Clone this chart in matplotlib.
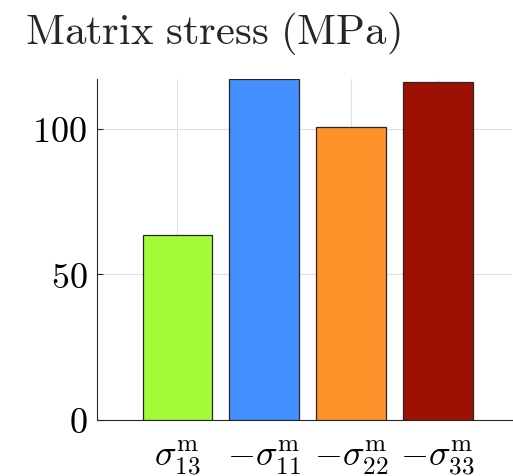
import matplotlib
matplotlib.use("Agg")
import matplotlib.pyplot as plt

plt.rcParams['mathtext.fontset'] = 'cm'
plt.rcParams['font.family'] = 'serif'
plt.rcParams['font.serif'] = ['cmr10', 'DejaVu Serif']
plt.rcParams['axes.formatter.use_mathtext'] = True

# data
labels = [r'$\sigma_{13}^{\mathrm{m}}$', r'$-\sigma_{11}^{\mathrm{m}}$',
          r'$-\sigma_{22}^{\mathrm{m}}$', r'$-\sigma_{33}^{\mathrm{m}}$']
values = [63.6, 117.2, 100.8, 116.3]
colors = ['#A4FB3A', '#448FFE', '#FE932C', '#9E1002']
yticks = [0, 50, 100]

fig = plt.figure(figsize=(5.13, 4.77), dpi=100)
ax = fig.add_axes([0.189, 0.1174, 0.81, 0.715])

x = list(range(1, len(values) + 1))
ax.bar(x, values, width=0.8, color=colors, edgecolor='#262626', linewidth=0.9, zorder=3)

ax.set_xlim(0.075, 4.86)
ax.set_ylim(0, max(values))
ax.set_xticks(x)
ax.set_xticklabels(labels, fontsize=26)
ax.set_yticks(yticks)
ax.set_yticklabels([f'${v}$' for v in yticks], fontsize=26)

ax.grid(True, color='#e0e0e0', linewidth=0.8, zorder=0)
ax.tick_params(axis='both', direction='in', length=4, width=0.8, color='#262626', pad=7)
ax.tick_params(axis='x', length=0, pad=13)
for s in ['top', 'right']:
    ax.spines[s].set_visible(False)
for s in ['left', 'bottom']:
    ax.spines[s].set_color('#262626')
    ax.spines[s].set_linewidth(0.8)

fig.text(0.048, 0.908, r'$\mathrm{Matrix\ stress\ (MPa)}$', fontsize=30.7, color='#262626')

fig.savefig('out.png', dpi=100)
